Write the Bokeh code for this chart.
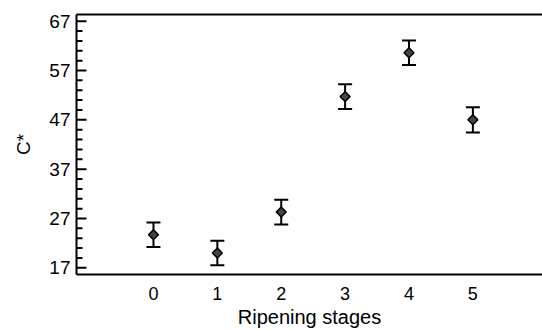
import math
from bokeh.plotting import figure
from bokeh.models import Range1d, FixedTicker, LinearAxis, Whisker, ColumnDataSource
from bokeh.embed import file_html
from bokeh.resources import INLINE

stages = [0, 1, 2, 3, 4, 5]
chroma = [23.7, 20.0, 28.3, 51.7, 60.6, 47.0]
err = [2.5, 2.5, 2.5, 2.5, 2.5, 2.55]
y_ticks = [17, 27, 37, 47, 57, 67]
y_minor = [19, 21, 23, 25, 29, 31, 33, 35, 39, 41, 43, 45, 49, 51, 53, 55, 59, 61, 63, 65]

X0, X1 = -1.205, 6.09
Y0, Y1 = 15.65, 68.35

src = ColumnDataSource(dict(
    x=stages, y=chroma,
    lo=[c - e for c, e in zip(chroma, err)],
    hi=[c + e for c, e in zip(chroma, err)],
))

p = figure(width=542, height=330, output_backend="svg", toolbar_location=None,
           x_range=Range1d(X0, X1), y_range=Range1d(Y0, Y1),
           min_border_left=76, min_border_right=0, min_border_top=14, min_border_bottom=54,
           x_axis_label="Ripening stages", y_axis_label="C*")
p.outline_line_color = None
p.grid.visible = False
p.background_fill_color = "white"

FONT = "Liberation Sans"

xa = p.xaxis[0]
xa.ticker = FixedTicker(ticks=stages)
xa.major_tick_in = 0
xa.major_tick_out = 0
xa.minor_tick_in = 0
xa.minor_tick_out = 0
xa.axis_line_width = 2
xa.axis_line_color = "black"
xa.major_label_standoff = 12
xa.major_label_text_font = FONT
xa.major_label_text_font_size = "18px"
xa.major_label_text_color = "black"
xa.axis_label_text_font = FONT
xa.axis_label_text_font_size = "20px"
xa.axis_label_text_font_style = "normal"
xa.axis_label_text_color = "black"
xa.axis_label_standoff = 3

ya = p.yaxis[0]
ya.ticker = FixedTicker(ticks=y_ticks)
ya.major_tick_in = 0
ya.major_tick_out = 0
ya.minor_tick_in = 0
ya.minor_tick_out = 0
ya.axis_line_width = 2
ya.axis_line_color = "black"
ya.major_label_standoff = 6
ya.major_label_text_font = FONT
ya.major_label_text_font_size = "19px"
ya.major_label_text_color = "black"
ya.axis_label_text_font = FONT
ya.axis_label_text_font_size = "19px"
ya.axis_label_text_font_style = "normal"
ya.axis_label_text_color = "black"
ya.axis_label_standoff = 12

top = LinearAxis(ticker=FixedTicker(ticks=[]), axis_line_width=2, axis_line_color="black",
                 major_tick_in=0, major_tick_out=0, minor_tick_in=0, minor_tick_out=0,
                 major_label_text_font_size="0px")
p.add_layout(top, "above")

# inward ticks on the left axis: dash markers centred on the axis, clipped by the frame
p.scatter(x=[X0] * len(y_ticks), y=y_ticks, marker="dash", size=20,
          line_color="black", line_width=2)
p.scatter(x=[X0] * len(y_minor), y=y_minor, marker="dash", size=12,
          line_color="black", line_width=2)

w = Whisker(source=src, base="x", lower="lo", upper="hi", dimension="height",
            line_color="black", line_width=2)
w.upper_head.size = 14
w.lower_head.size = 14
w.upper_head.line_width = 2
w.lower_head.line_width = 2
w.upper_head.line_color = "black"
w.lower_head.line_color = "black"
p.add_layout(w)

p.scatter("x", "y", source=src, marker="square", angle=math.pi / 4, size=7,
          fill_color="#444444", line_color="black", line_width=1.5)

open("out.html", "w").write(file_html(p, INLINE))
